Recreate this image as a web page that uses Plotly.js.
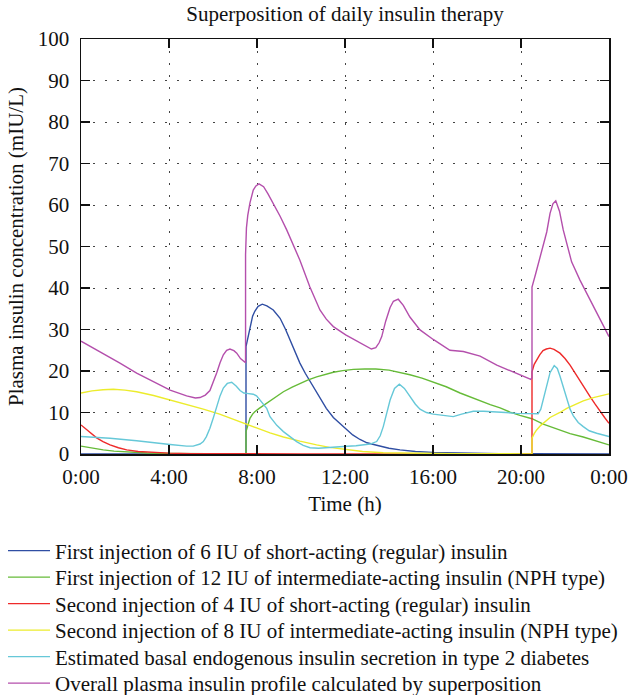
<!DOCTYPE html>
<html>
<head>
<meta charset="utf-8">
<script src="https://cdn.plot.ly/plotly-3.0.1.min.js"></script>
<style>html,body{margin:0;padding:0;background:#fff;}#chart{width:629px;height:695px;}</style>
</head>
<body>
<div id="chart"></div>
<script>
// ---- data (hours, mIU/L) ----
const timeTickVals = [0, 4, 8, 12, 16, 20, 24];
const timeTickLabels = ["0:00", "4:00", "8:00", "12:00", "16:00", "20:00", "0:00"];

const seriesNames = [
  "First injection of 6 IU of short-acting (regular) insulin",
  "First injection of 12 IU of intermediate-acting insulin (NPH type)",
  "Second injection of 4 IU of short-acting (regular) insulin",
  "Second injection of 8 IU of intermediate-acting insulin (NPH type)",
  "Estimated basal endogenous insulin secretion in type 2 diabetes",
  "Overall plasma insulin profile calculated by superposition"
];

const regular1Time = [0,7.5,7.5,7.6,7.68,7.8,7.9,8.05,8.24,8.45,8.74,9.05,9.3,9.5,9.75,9.95,10.2,10.4,10.65,10.86,11.15,11.47,11.75,12.03,12.35,12.68,13.0,13.44,14.0,14.5,15.2,16.0,17,18,19,20.5,22,24];
const regular1Ins  = [0,0,25.9,28.5,30.7,33.2,34.4,35.6,36.1,35.7,34.7,32.7,30.0,27.5,24.2,21.9,19.4,17.6,15.3,13.4,11.0,8.8,7.4,6.0,4.6,3.5,2.7,2.1,1.4,1.0,0.6,0.4,0.25,0.15,0.1,0.05,0.02,0];

const nph1Time = [0,0.5,1.01,1.5,2.08,3,4,5,6,7.5,7.5,7.6,7.68,7.8,7.9,8.1,8.44,8.8,9.2,9.6,9.95,10.3,10.71,11.1,11.47,11.9,12.38,12.9,13.4,14.0,14.5,14.95,15.5,16.01,16.6,17.23,17.9,18.6,19.05,19.5,19.95,20.5,21.01,21.32,21.8,22.23,22.83,23.4,24];
const nph1Ins  = [1.9,1.4,1.0,0.7,0.5,0.25,0.12,0.06,0.03,0.02,5.4,7.3,8.6,9.6,10.2,11.0,12.2,13.6,15.0,16.1,17.0,17.8,18.6,19.2,19.7,20.1,20.4,20.5,20.5,20.2,19.7,19.1,18.3,17.4,16.2,14.7,13.3,11.9,11.1,10.1,9.3,8.5,7.2,6.6,5.6,4.9,4.1,3.1,2.2];

const regular2Time = [0,0.3,0.71,1.0,1.32,1.7,2.08,2.6,3.29,4,5,7,10,20.5,20.5,20.6,20.71,20.85,21.0,21.15,21.32,21.5,21.77,22.0,22.23,22.45,22.68,22.9,23.14,23.37,23.59,23.8,24];
const regular2Ins  = [7.0,5.6,3.9,3.0,2.2,1.5,1.0,0.6,0.35,0.2,0.1,0.05,0.02,0,19.8,21.6,22.7,23.9,24.9,25.3,25.5,25.2,24.3,23.0,21.4,19.5,17.8,15.8,13.8,12.0,10.2,8.8,7.4];

const nph2Time = [0,0.5,1.0,1.47,2.0,2.53,3.3,4.05,4.8,5.56,6.3,7.08,7.48,7.98,8.59,9.2,9.95,10.41,10.71,11.3,12.03,12.8,13.74,15,17,20.5,20.5,20.6,20.71,20.9,21.01,21.32,21.77,22.08,22.53,22.83,23.29,23.7,24];
const nph2Ins  = [14.7,15.2,15.5,15.6,15.4,15.0,14.1,13.0,12.0,10.8,9.6,8.0,7.2,6.3,5.1,4.1,3.1,2.5,2.2,1.6,1.1,0.6,0.3,0.15,0.08,0.03,3.8,4.9,5.8,6.9,7.4,8.8,10.0,11.0,12.1,12.8,13.6,14.1,14.5];

const basalTime = [0,1.01,1.32,2.53,2.83,4.05,4.8,5.1,5.41,5.56,5.7,5.86,6.02,6.17,6.32,6.47,6.65,6.85,7.05,7.23,7.4,7.53,7.83,7.98,8.14,8.3,8.44,8.59,8.75,8.9,9.2,9.5,9.8,10.1,10.41,10.8,11.3,11.92,12.5,13.14,13.44,13.6,13.74,13.9,14.05,14.25,14.47,14.7,14.95,15.2,15.41,15.7,16.01,16.5,16.92,17.3,17.83,18.3,18.74,19.3,19.8,20.5,20.78,20.9,21.0,21.15,21.32,21.51,21.65,21.77,21.92,22.08,22.23,22.38,22.6,22.83,23.1,23.44,24];
const basalIns  = [4.2,4.0,3.8,3.2,3.0,2.3,1.9,1.9,2.4,3.0,4.2,6.2,8.8,11.5,14.0,15.9,17.0,17.3,16.4,15.3,14.7,14.6,14.4,14.0,13.0,12.0,11.0,9.0,7.8,6.9,5.4,4.2,3.0,2.1,1.5,1.4,1.5,1.8,2.0,2.4,3.0,4.4,6.6,9.8,13.0,15.8,16.8,15.8,13.8,12.0,10.8,10.0,9.6,9.2,9.0,9.6,10.3,10.3,10.1,10.0,9.8,9.6,9.7,10.8,13.0,16.5,19.6,21.3,20.6,18.8,16.0,13.0,10.8,9.2,7.6,6.6,5.6,5.0,4.2];

const overallTime = [0,0.5,1.01,1.77,2.53,3.29,4.05,4.8,5.2,5.41,5.65,5.86,6.02,6.17,6.32,6.47,6.62,6.77,6.95,7.08,7.25,7.38,7.48,7.48,7.52,7.58,7.68,7.83,7.95,8.09,8.3,8.5,8.74,9.05,9.35,9.65,9.95,10.4,10.86,11.15,11.47,12.03,12.68,13.2,13.4,13.55,13.67,13.85,14.05,14.2,14.42,14.65,14.95,15.41,16.01,16.77,17.38,18.14,18.9,19.65,20.3,20.45,20.5,20.5,20.67,20.99,21.17,21.32,21.45,21.58,21.75,21.92,22.1,22.3,22.68,23.14,23.59,24];
const overallIns  = [27.2,25.7,24.3,21.9,19.5,17.4,15.4,14.0,13.5,13.6,14.2,15.3,17.3,19.6,22.0,23.9,25.0,25.3,24.9,24.3,23.0,22.3,22.0,48.0,54.5,57.5,60.5,63.6,64.6,65.1,64.4,62.7,60.4,57.3,54.0,50.3,46.7,40.3,34.7,32.5,30.7,28.7,26.7,25.3,25.6,26.8,28.3,32.0,35.3,36.8,37.3,35.8,33.0,29.9,27.6,25.0,24.7,23.6,21.4,19.8,18.3,18.0,18.3,40.2,43.5,49.5,53.5,58.0,60.3,61.0,58.5,54.0,50.2,46.3,41.9,37.1,32.3,28.3];

const seriesTimes = [regular1Time, nph1Time, regular2Time, nph2Time, basalTime, overallTime];
const seriesValues = [regular1Ins, nph1Ins, regular2Ins, nph2Ins, basalIns, overallIns];
const seriesColors = ["#2f4ea3", "#66bb38", "#ee2a2a", "#ecec2c", "#66c8d8", "#b44fac"];

// ---- layout ----
const W = 629, H = 695;
const M = {l: 81, r: 20, t: 39, b: 241, autoexpand: false};
const plotH = H - M.t - M.b;
const plotW = W - M.l - M.r;
const FONT = "Liberation Serif, Times New Roman, serif";
const FS = 21;
const legendRowsPx = [551, 577.5, 604, 630.5, 657, 683.5];
const legendLeftPx = 3;

const traces = seriesNames.map((name, i) => ({
  type: "scatter",
  mode: "lines",
  x: seriesTimes[i],
  y: seriesValues[i],
  name: name,
  line: {color: seriesColors[i], width: 1.4},
  legend: i === 0 ? "legend" : "legend" + (i + 1),
  hoverinfo: "skip"
}));

const layout = {
  width: W, height: H,
  margin: M,
  paper_bgcolor: "#fff",
  plot_bgcolor: "#fff",
  font: {family: FONT, size: FS, color: "#111"},
  title: {
    text: "Superposition of daily insulin therapy",
    font: {family: FONT, size: FS, color: "#111"},
    x: 0.5, xref: "paper", xanchor: "center",
    y: 1 - 14 / H, yref: "container", yanchor: "middle"
  },
  xaxis: {
    range: [0, 24],
    tickmode: "array", tickvals: timeTickVals, ticktext: timeTickLabels,
    ticks: "inside", ticklen: 9, tickwidth: 1.5, tickcolor: "#111",
    showline: true, linecolor: "#111", linewidth: 1.5, mirror: "ticks",
    showgrid: true, gridcolor: "#444", gridwidth: 1, griddash: "1.5px,10.5px",
    zeroline: false,
    tickfont: {family: FONT, size: FS, color: "#111"},
    ticklabelstandoff: 3,
    title: {text: "Time (h)", font: {family: FONT, size: FS, color: "#111"}, standoff: 8},
    automargin: false, fixedrange: true
  },
  yaxis: {
    range: [0, 100], dtick: 10, tick0: 0,
    ticks: "inside", ticklen: 9, tickwidth: 1.5, tickcolor: "#111",
    showline: true, linecolor: "#111", linewidth: 1.5, mirror: "ticks",
    showgrid: true, gridcolor: "#444", gridwidth: 1, griddash: "1.5px,10.5px",
    zeroline: false,
    tickfont: {family: FONT, size: FS, color: "#111"},
    ticklabelstandoff: 6,
    title: {text: "Plasma insulin concentration (mIU/L)", font: {family: FONT, size: FS, color: "#111"}, standoff: 8},
    automargin: false, fixedrange: true
  },
  showlegend: true
};

legendRowsPx.forEach((py, i) => {
  const key = i === 0 ? "legend" : "legend" + (i + 1);
  layout[key] = {
    x: (legendLeftPx - M.l) / plotW, xanchor: "left",
    y: (H - M.b - py) / plotH, yanchor: "middle",
    bgcolor: "rgba(0,0,0,0)", borderwidth: 0,
    font: {family: FONT, size: FS, color: "#111"},
    itemwidth: 42
  };
});

Plotly.newPlot("chart", traces, layout, {staticPlot: true, displayModeBar: false});
</script>
</body>
</html>
